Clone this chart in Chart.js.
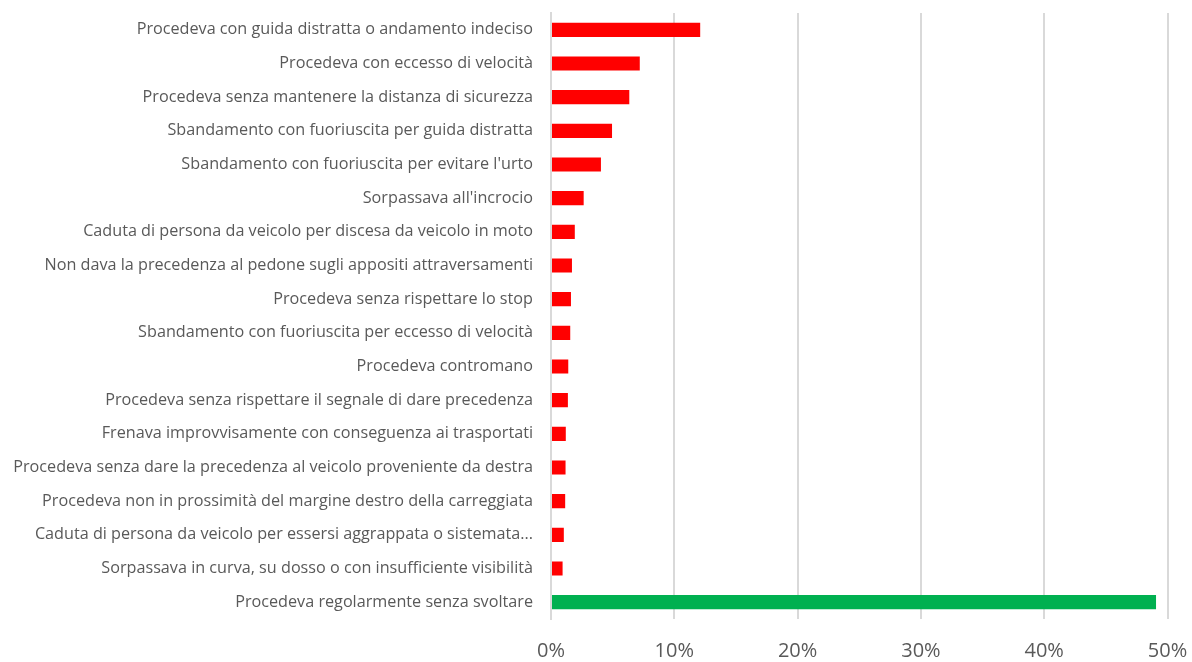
<!DOCTYPE html>
<html>
<head>
<meta charset="utf-8">
<script src="https://cdn.jsdelivr.net/npm/chart.js@4"></script>
<style>
  html, body { margin: 0; padding: 0; background: #fff; }
  #wrap { width: 1192px; height: 662px; position: relative; }
</style>
</head>
<body>
<div id="wrap"><canvas id="chart"></canvas></div>
<script>
// categorie (dall'alto verso il basso)
const categories = [
  "Procedeva con guida distratta o andamento indeciso",
  "Procedeva con eccesso di velocità",
  "Procedeva senza mantenere la distanza di sicurezza",
  "Sbandamento con fuoriuscita per guida distratta",
  "Sbandamento con fuoriuscita per evitare l'urto",
  "Sorpassava all'incrocio",
  "Caduta di persona da veicolo per discesa da veicolo in moto",
  "Non dava la precedenza al pedone sugli appositi attraversamenti",
  "Procedeva senza rispettare lo stop",
  "Sbandamento con fuoriuscita per eccesso di velocità",
  "Procedeva contromano",
  "Procedeva senza rispettare il segnale di dare precedenza",
  "Frenava improvvisamente con conseguenza ai trasportati",
  "Procedeva senza dare la precedenza al veicolo proveniente da destra",
  "Procedeva non in prossimità del margine destro della carreggiata",
  "Caduta di persona da veicolo per essersi aggrappata o sistemata...",
  "Sorpassava in curva, su dosso o con insufficiente visibilità",
  "Procedeva regolarmente senza svoltare"
];

// percentuali
const percentages = [12.1, 7.2, 6.35, 4.95, 4.05, 2.65, 1.93, 1.7, 1.62, 1.56, 1.4, 1.37, 1.2, 1.18, 1.15, 1.04, 0.94, 49.07];

const xTicks = [0, 10, 20, 30, 40, 50];

const barColors = categories.map((c, i) => i === categories.length - 1 ? "#00B050" : "#FF0000");

const ctx = document.getElementById("chart").getContext("2d");
const chart = new Chart(ctx, {
  type: "bar",
  data: {
    labels: categories,
    datasets: [
      {
        data: percentages,
        backgroundColor: barColors,
        borderWidth: 0,
        categoryPercentage: 1,
        barPercentage: 0.42,
      },
    ],
  },
  options: {
    indexAxis: "y",
    responsive: true,
    maintainAspectRatio: false,
    animation: false,
    layout: { padding: { top: 0, right: 0, bottom: -21, left: 0 } },
    plugins: {
      legend: { display: false },
      tooltip: { enabled: false },
    },
    scales: {
      x: {
        min: 0,
        max: 50,
        afterBuildTicks: (scale) => {
          scale.ticks = xTicks.map((v) => ({ value: v }));
        },
        afterFit: (scale) => {
          scale.paddingRight = 24.5;
          scale.paddingLeft = 0;
        },
        grid: { color: "#d9d9d9", lineWidth: 2, drawTicks: false },
        border: { display: false },
        ticks: {
          color: "#595959",
          font: { family: "Open Sans", size: 20 },
          padding: 20,
          callback: (v) => v + "%",
        },
      },
      y: {
        afterFit: (scale) => {
          scale.width = 551;
          scale.paddingTop = 13;
          scale.paddingBottom = 0;
        },
        grid: { display: false, drawTicks: false },
        border: { display: true, color: "#d9d9d9", width: 2 },
        ticks: {
          color: "#595959",
          font: { family: "Open Sans", size: 16.2 },
          padding: 18,
          autoSkip: false,
        },
      },
    },
  },
});
</script>
</body>
</html>
